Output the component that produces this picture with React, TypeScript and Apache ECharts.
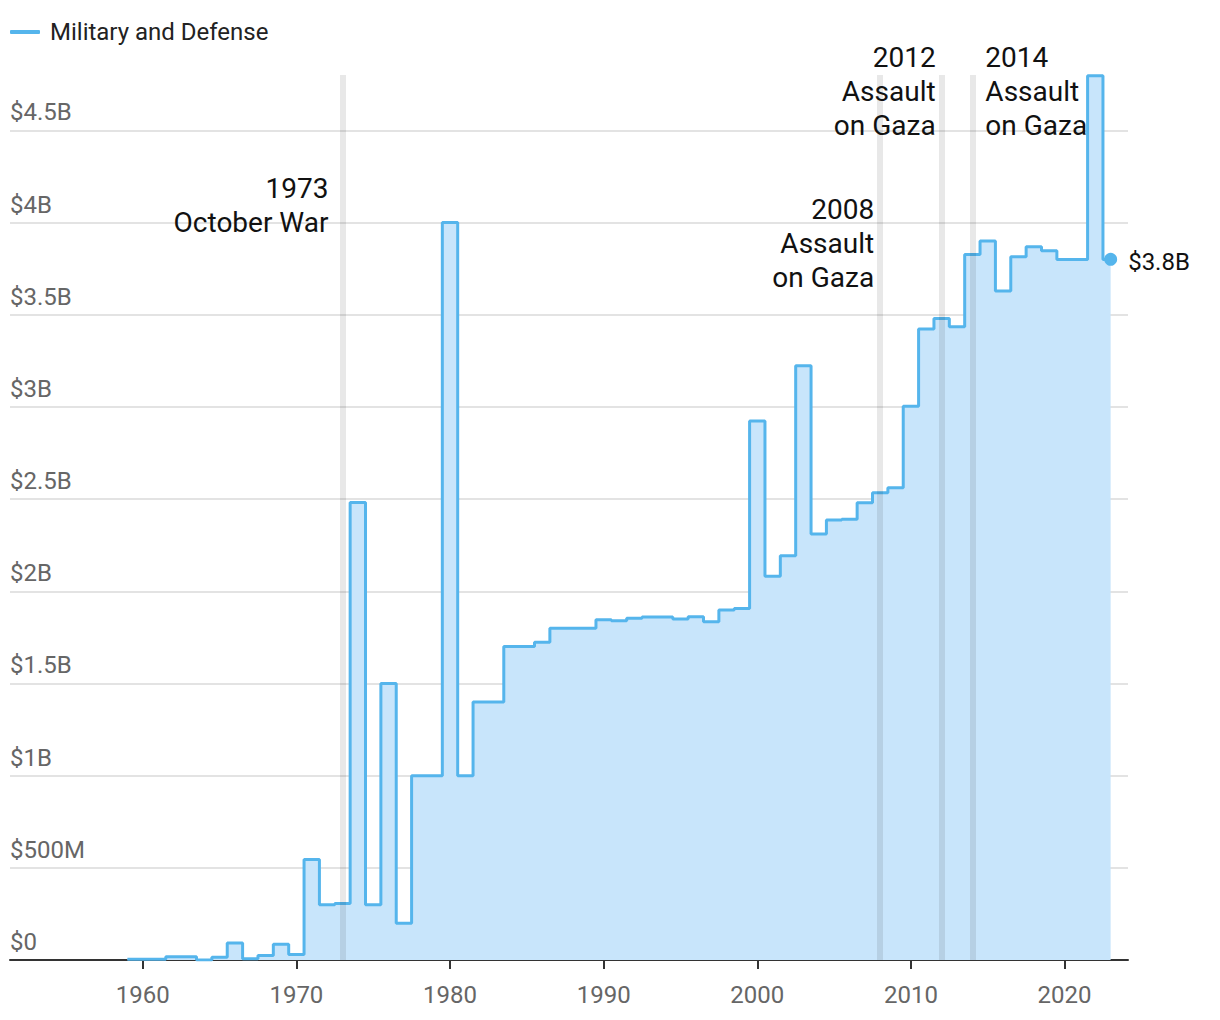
import React, { useEffect, useRef } from "react";
import * as echarts from "echarts";

// Fiscal years
const years = [
  1959, 1960, 1961, 1962, 1963, 1964, 1965, 1966, 1967, 1968, 1969,
  1970, 1971, 1972, 1973, 1974, 1975, 1976, 1977, 1978, 1979,
  1980, 1981, 1982, 1983, 1984, 1985, 1986, 1987, 1988, 1989,
  1990, 1991, 1992, 1993, 1994, 1995, 1996, 1997, 1998, 1999,
  2000, 2001, 2002, 2003, 2004, 2005, 2006, 2007, 2008, 2009,
  2010, 2011, 2012, 2013, 2014, 2015, 2016, 2017, 2018, 2019,
  2020, 2021, 2022, 2023,
];

// Military and Defense aid, billions USD
const militaryAid = [
  0.004, 0.004, 0.004, 0.018, 0.018, 0.0, 0.0145, 0.092, 0.007, 0.025, 0.085,
  0.03, 0.545, 0.3, 0.307, 2.482, 0.3, 1.5, 0.2, 1.0, 1.0,
  4.0, 1.0, 1.4, 1.4, 1.7, 1.7, 1.723, 1.8, 1.8, 1.8,
  1.845, 1.84, 1.853, 1.86, 1.86, 1.849, 1.862, 1.835, 1.898, 1.907,
  2.923, 2.082, 2.193, 3.223, 2.31, 2.386, 2.39, 2.48, 2.534, 2.561,
  3.004, 3.422, 3.48, 3.434, 3.827, 3.899, 3.628, 3.814, 3.868, 3.847,
  3.8, 3.8, 4.796, 3.8,
];

const seriesName = "Military and Defense";
const yTickLabels = ["$0", "$500M", "$1B", "$1.5B", "$2B", "$2.5B", "$3B", "$3.5B", "$4B", "$4.5B"];
const xTickYears = [1960, 1970, 1980, 1990, 2000, 2010, 2020];

const eventYears = [1973, 2008, 2012, 2014];
const eventLabels = ["1973\nOctober War", "2008\nAssault\non Gaza", "2012\nAssault\non Gaza", "2014\nAssault\non Gaza"];
const eventLabelLayout = [
  { dx: -14, top: 171, align: "right" },
  { dx: -6, top: 192, align: "right" },
  { dx: -6, top: 40, align: "right" },
  { dx: 13, top: 40, align: "left" },
];
const lastLabel = "$3.8B";

const LINE = "#55b5ec";
const FILL = "#c8e5fb";
const FONT = "Roboto, 'Noto Sans', sans-serif";

export default function App() {
  const ref = useRef<HTMLDivElement>(null);
  useEffect(() => {
    if (!ref.current) return;
    const chart = echarts.init(ref.current, undefined, { renderer: "svg" });
    const data = years.map((y, i) => [y, militaryAid[i]]);
    const last = data[data.length - 1];
    chart.setOption({
      animation: false,
      textStyle: { fontFamily: FONT },
      grid: { left: 10, right: 92, top: 75, bottom: 60, containLabel: false },
      legend: {
        left: 10,
        top: 20,
        padding: 0,
        data: [seriesName],
        icon: "roundRect",
        itemWidth: 30,
        itemHeight: 4,
        textStyle: { fontSize: 24, color: "#222", fontFamily: FONT, padding: [0, 0, 0, 5] },
        itemStyle: { color: LINE },
      },
      xAxis: {
        type: "value",
        min: 1951.36,
        max: 2024.13,
        axisLine: { show: true, lineStyle: { color: "#333", width: 2 } },
        axisTick: { show: true, length: 9, customValues: xTickYears, lineStyle: { color: "#333", width: 2 } },
        axisLabel: {
          customValues: xTickYears,
          color: "#666",
          fontSize: 24,
          margin: 23,
          fontFamily: FONT,
          formatter: (v: number) => String(v),
        },
        splitLine: { show: false },
      },
      yAxis: {
        type: "value",
        min: 0,
        max: 4.8,
        interval: 0.5,
        axisLine: { show: false },
        axisTick: { show: false },
        splitLine: { show: true, showMaxLine: false, lineStyle: { color: "#e3e3e3", width: 2 } },
        axisLabel: {
          inside: true,
          showMaxLabel: false,
          align: "left",
          verticalAlign: "bottom",
          margin: 0,
          padding: [0, 0, 6, 0],
          color: "#666",
          fontSize: 24,
          fontFamily: FONT,
          formatter: (v: number) => {
            const idx = Math.round(v / 0.5);
            return yTickLabels[idx] ?? "";
          },
        },
      },
      series: [
        {
          name: seriesName,
          type: "line",
          step: "middle",
          data,
          showSymbol: false,
          lineStyle: { color: LINE, width: 3 },
          itemStyle: { color: LINE },
          areaStyle: { color: FILL, opacity: 1 },
          markLine: {
            silent: true,
            symbol: "none",
            label: { show: false },
            lineStyle: { color: "rgba(0,0,0,0.09)", width: 6, type: "solid" },
            data: eventYears.map((y) => ({ xAxis: y })),
          },
          z: 2,
        },
        {
          name: "last",
          type: "scatter",
          data: [last],
          symbol: "circle",
          symbolSize: 13,
          itemStyle: { color: LINE, opacity: 1 },
          label: {
            show: true,
            position: "right",
            distance: 11,
            offset: [0, 3],
            formatter: () => lastLabel,
            color: "#111",
            fontSize: 24,
            fontFamily: FONT,
          },
          z: 5,
        },
      ],
    });

    const graphics = eventYears.map((y, i) => {
      const [px] = chart.convertToPixel({ gridIndex: 0 }, [y, 0]) as number[];
      const lay = eventLabelLayout[i];
      return {
        type: "text",
        x: px + lay.dx,
        y: lay.top,
        style: {
          text: eventLabels[i],
          fontSize: 28,
          lineHeight: 34,
          fontFamily: FONT,
          fill: "#111",
          align: lay.align,
          verticalAlign: "top",
        },
        z: 10,
      };
    });
    chart.setOption({ graphic: graphics });

    return () => chart.dispose();
  }, []);
  return (
    <div
      ref={ref}
      style={{ position: "fixed", left: 0, top: 0, width: 1220, height: 1020, background: "#fff" }}
    />
  );
}
